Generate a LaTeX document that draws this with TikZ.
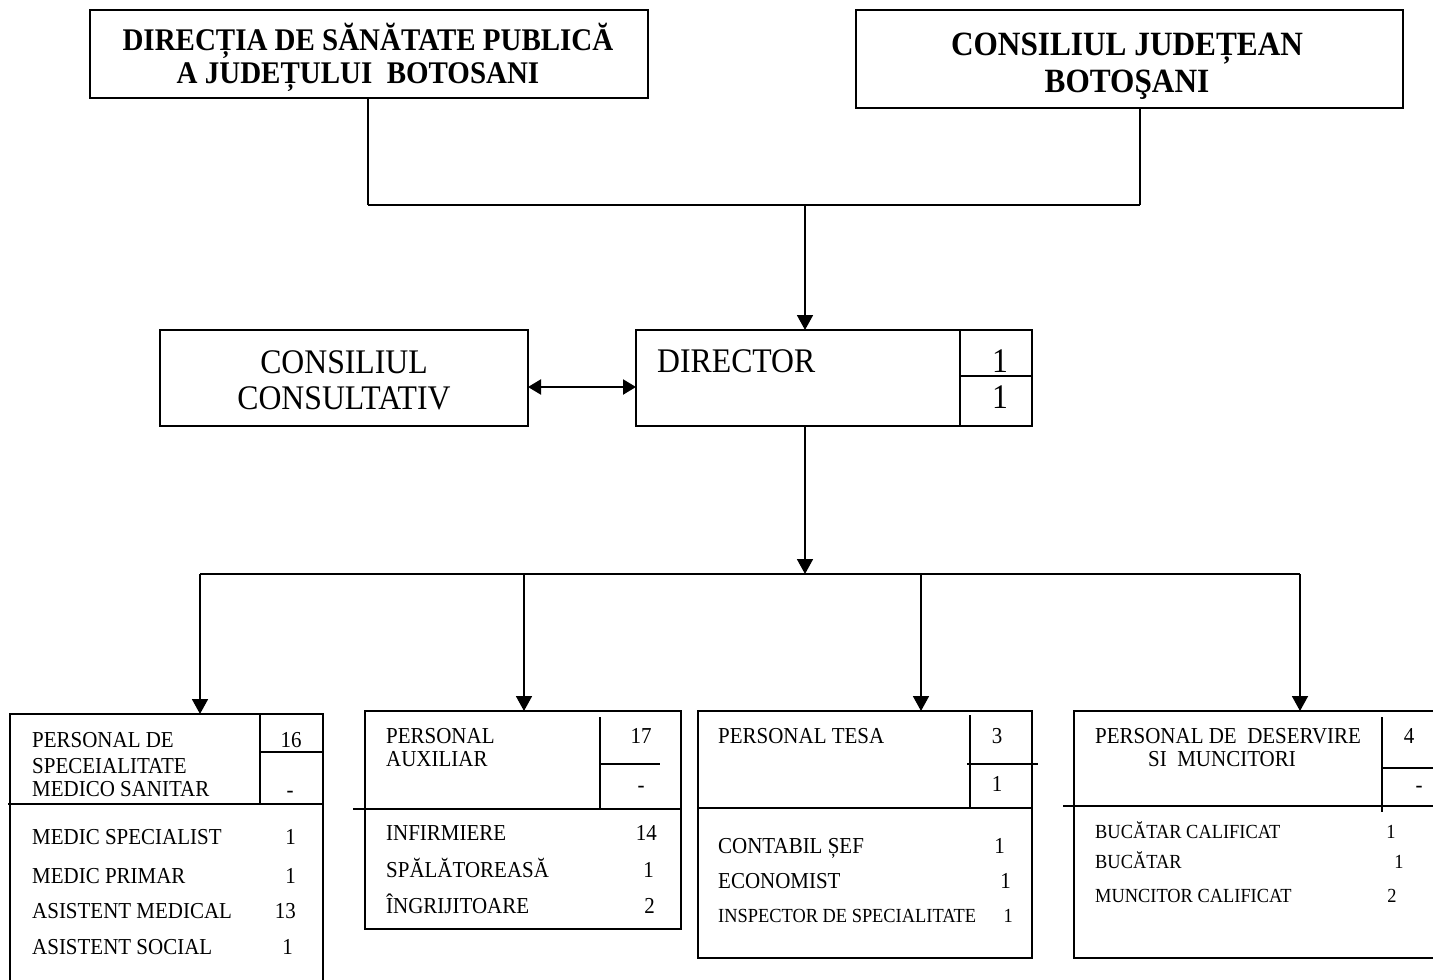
\documentclass[tikz,border=0pt]{standalone}
\usepackage{fontspec}
\setmainfont{Liberation Serif}[FakeStretch=0.92]
\usetikzlibrary{arrows.meta}
\begin{document}
\begin{tikzpicture}[x=1pt,y=-1pt,
  box/.style={draw,line width=1.8pt,anchor=north west,inner sep=0,outer sep=0},
  topbox/.style={box,line width=2.2pt},
  ln/.style={line width=1.8pt},
  arr/.style={line width=1.8pt,-{Triangle[length=15pt,width=16pt]}},
  darr/.style={line width=2.2pt,{Triangle[length=13pt,width=15pt]}-{Triangle[length=13pt,width=15pt]}},
  bigf/.style={font=\fontsize{34.5}{34.5}\selectfont},
  boldf/.style={font=\fontsize{31.5}{31.5}\selectfont\bfseries},
  cjf/.style={font=\fontsize{34}{34}\selectfont\bfseries},
  medf/.style={font=\fontsize{22.8}{22.8}\selectfont},
  smlf/.style={font=\fontsize{20}{20}\selectfont},
  lab/.style={inner sep=0,anchor=base west},
  ctr/.style={inner sep=0,anchor=base},
  rnum/.style={inner sep=0,anchor=base east},
]
\useasboundingbox (0,0) rectangle (1433,980);
\clip (0,0) rectangle (1433,980);
\fill[white] (0,0) rectangle (1433,980);

% top boxes
\node[topbox,minimum width=558,minimum height=88] (dsp) at (90,10) {};
\node[topbox,minimum width=547,minimum height=98] (cj) at (856,10) {};
\node[ctr,boldf] (dspa) at (368,50) {DIRECȚIA DE SĂNĂTATE PUBLICĂ};
\node[ctr,boldf] (dspb) at (358,83) {A JUDEȚULUI\ \ BOTOSANI};
\node[ctr,cjf] (cja) at (1127,55) {CONSILIUL JUDEȚEAN};
\node[ctr,cjf] (cjb) at (1127,92) {BOTOŞANI};

% consiliul consultativ and director
\node[box,minimum width=368,minimum height=96] (cc) at (160,330) {};
\node[ctr,bigf] (cca) at (344,373) {CONSILIUL};
\node[ctr,bigf] (ccb) at (344,409) {CONSULTATIV};
\node[box,minimum width=396,minimum height=96] (dir) at (636,330) {};
\node[lab,bigf] (dirt) at (657,372) {DIRECTOR};
\node[ctr,bigf] (dirn1) at (1000,372) {1};
\node[ctr,bigf] (dirn2) at (1000,408) {1};
\draw[ln] (960,330) -- (960,426);
\draw[ln] (960,376) -- (1032,376);

% connectors at top
\coordinate (jl) at (368,205);
\coordinate (jr) at (1140,205);
\coordinate (jm) at (805,205);
\draw[line width=1.4pt] (dsp.south -| jl) -- (jl);
\draw[line width=1.4pt] (cj.south -| jr) -- (jr);
\draw[line width=2.2pt] (jl) -- (jr);
\draw[arr] (jm) -- (dir.north -| jm);
\coordinate (da) at (0,387);
\draw[darr] (cc.east |- da) -- (dir.west |- da);

% bus
\coordinate (bus) at (805,574);
\coordinate (b1) at (200,574);
\coordinate (b2) at (524,574);
\coordinate (b3) at (921,574);
\coordinate (b4) at (1300,574);
\draw[arr] (dir.south -| bus) -- (bus);
\draw[ln] (b1) -- (b4);

% bottom boxes
\node[box,minimum width=313,minimum height=290] (p1) at (10,714) {};
\node[box,minimum width=316,minimum height=218] (p2) at (365,711) {};
\node[box,minimum width=334,minimum height=247] (p3) at (698,711) {};
\node[box,minimum width=380,minimum height=247] (p4) at (1074,711) {};
\draw[arr] (b1) -- (p1.north -| b1);
\draw[arr] (b2) -- (p2.north -| b2);
\draw[arr] (b3) -- (p3.north -| b3);
\draw[arr] (b4) -- (p4.north -| b4);

% box 1
\draw[ln] (8,804) -- (323,804);
\draw[ln] (260,714) -- (260,804);
\draw[ln] (260,752) -- (323,752);
\node[lab,medf] (p1a) at (32,747) {PERSONAL DE};
\node[lab,medf] (p1b) at (32,773) {SPECEIALITATE};
\node[lab,medf] (p1c) at (32,796) {MEDICO SANITAR};
\node[ctr,medf] (p1n) at (291,747) {16};
\node[ctr,medf] (p1m) at (290,797) {-};
\node[lab,medf] (p1i1) at (32,844) {MEDIC SPECIALIST};
\node[lab,medf] (p1i2) at (32,883) {MEDIC PRIMAR};
\node[lab,medf] (p1i3) at (32,918) {ASISTENT MEDICAL};
\node[lab,medf] (p1i4) at (32,954) {ASISTENT SOCIAL};
\node[rnum,medf] (p1j1) at (296,844) {1};
\node[rnum,medf] (p1j2) at (296,883) {1};
\node[rnum,medf] (p1j3) at (296,918) {13};
\node[rnum,medf] (p1j4) at (293,954) {1};

% box 2
\draw[ln] (353,809) -- (681,809);
\draw[ln] (600,717) -- (600,809);
\draw[ln] (600,764) -- (660,764);
\node[lab,medf] (p2a) at (386,743) {PERSONAL};
\node[lab,medf] (p2b) at (386,766) {AUXILIAR};
\node[ctr,medf] (p2n) at (641,743) {17};
\node[ctr,medf] (p2m) at (641,792) {-};
\node[lab,medf] (p2i1) at (386,840) {INFIRMIERE};
\node[lab,medf] (p2i2) at (386,877) {SPĂLĂTOREASĂ};
\node[lab,medf] (p2i3) at (386,913) {ÎNGRIJITOARE};
\node[rnum,medf] (p2j1) at (657,840) {14};
\node[rnum,medf] (p2j2) at (654,877) {1};
\node[rnum,medf] (p2j3) at (655,913) {2};

% box 3
\draw[ln] (697,808) -- (1032,808);
\draw[ln] (970,715) -- (970,808);
\draw[ln] (967,764) -- (1038,764);
\node[lab,medf] (p3a) at (718,743) {PERSONAL TESA};
\node[ctr,medf] (p3n) at (997,743) {3};
\node[ctr,medf] (p3m) at (997,791) {1};
\node[lab,medf] (p3i1) at (718,853) {CONTABIL ȘEF};
\node[lab,medf] (p3i2) at (718,888) {ECONOMIST};
\node[lab,smlf] (p3i3) at (718,922) {INSPECTOR DE SPECIALITATE};
\node[rnum,medf] (p3j1) at (1005,853) {1};
\node[rnum,medf] (p3j2) at (1011,888) {1};
\node[rnum,smlf] (p3j3) at (1013,922) {1};

% box 4
\draw[ln] (1063,806) -- (1440,806);
\draw[ln] (1382,717) -- (1382,812);
\draw[ln] (1382,768) -- (1440,768);
\node[lab,medf] (p4a) at (1095,743) {PERSONAL DE\ \ DESERVIRE};
\node[lab,medf] (p4b) at (1148,766) {SI\ \ MUNCITORI};
\node[ctr,medf] (p4n) at (1409,743) {4};
\node[ctr,medf] (p4m) at (1419,792) {-};
\node[lab,smlf] (p4i1) at (1095,838) {BUCĂTAR CALIFICAT};
\node[lab,smlf] (p4i2) at (1095,868) {BUCĂTAR};
\node[lab,smlf] (p4i3) at (1095,902) {MUNCITOR CALIFICAT};
\node[ctr,smlf] (p4j1) at (1391,838) {1};
\node[ctr,smlf] (p4j2) at (1399,868) {1};
\node[ctr,smlf] (p4j3) at (1392,902) {2};
\end{tikzpicture}
\end{document}
